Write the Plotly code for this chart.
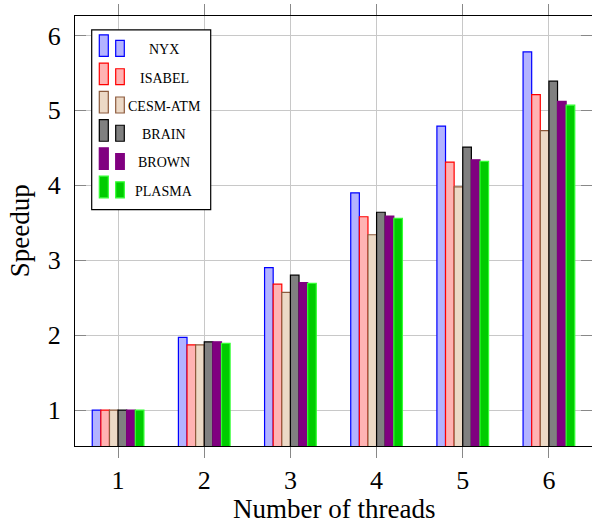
import plotly.graph_objects as go

threads = [1, 2, 3, 4, 5, 6]
series_names = ["NYX", "ISABEL", "CESM-ATM", "BRAIN", "BROWN", "PLASMA"]
nyx = [1.0, 1.97, 2.90, 3.90, 4.79, 5.78]
isabel = [1.0, 1.87, 2.68, 3.58, 4.31, 5.21]
cesm_atm = [1.0, 1.87, 2.57, 3.34, 3.98, 4.73]
brain = [1.0, 1.91, 2.80, 3.64, 4.51, 5.39]
brown = [1.0, 1.91, 2.70, 3.59, 4.34, 5.12]
plasma = [1.0, 1.89, 2.69, 3.56, 4.32, 5.07]
y_ticks = [1, 2, 3, 4, 5, 6]

series_values = [nyx, isabel, cesm_atm, brain, brown, plasma]
fills = ["#b3b3ff", "#ffb3b3", "#ecd9c6", "#808080", "#800080", "#00cc00"]
lines = ["#0000ff", "#ff0000", "#8c5a3c", "#000000", "#800080", "#33ff33"]

FONT = "Liberation Serif"
W, H = 592, 523
ML, MR, MT, MB = 75, 0, 15.5, 77
PW, PH = W - ML - MR, H - MT - MB

fig = go.Figure()
for name, vals, fc, lc in zip(series_names, series_values, fills, lines):
    fig.add_trace(go.Bar(x=threads, y=vals, name=name,
                         marker=dict(color=fc, line=dict(color=lc, width=1.2)),
                         showlegend=False))

def px(x):
    return (x - ML) / PW

def py(y):
    return (MT + PH - y) / PH

shapes = []
annotations = []
# legend box
shapes.append(dict(type="rect", xref="paper", yref="paper",
                   x0=px(91.7), x1=px(210.7), y0=py(209.3), y1=py(29.3),
                   line=dict(color="black", width=1.2), fillcolor="white", layer="above"))
pitch = 28.3
for i, (name, fc, lc) in enumerate(zip(series_names, fills, lines)):
    top = 34.3 + i * pitch
    bot = top + 21.7
    shapes.append(dict(type="rect", xref="paper", yref="paper",
                       x0=px(99.3), x1=px(108.3), y0=py(bot), y1=py(top),
                       line=dict(color=lc, width=1.2), fillcolor=fc, layer="above"))
    shapes.append(dict(type="rect", xref="paper", yref="paper",
                       x0=px(115.7), x1=px(124.3), y0=py(bot), y1=py(top + 5.7),
                       line=dict(color=lc, width=1.2), fillcolor=fc, layer="above"))
    annotations.append(dict(xref="paper", yref="paper", x=px(164), y=py(top + 15),
                            text=name, showarrow=False, xanchor="center", yanchor="middle",
                            font=dict(family=FONT, size=14, color="black")))

# axis titles
annotations.append(dict(xref="paper", yref="paper", x=px(334), y=py(509),
                        text="Number of threads", showarrow=False,
                        xanchor="center", yanchor="middle",
                        font=dict(family=FONT, size=27, color="black")))
annotations.append(dict(xref="paper", yref="paper", x=px(20), y=py(231),
                        text="Speedup", showarrow=False, textangle=-90,
                        xanchor="center", yanchor="middle",
                        font=dict(family=FONT, size=27, color="black")))

fig.update_layout(
    width=W, height=H,
    margin=dict(l=ML, r=MR, t=MT, b=MB),
    paper_bgcolor="white", plot_bgcolor="white",
    barmode="group", bargap=0.4, bargroupgap=0,
    font=dict(family=FONT, size=26, color="black"),
    shapes=shapes, annotations=annotations,
    xaxis=dict(range=[0.5, 6.5], tickvals=threads, ticktext=[str(t) for t in threads],
               showgrid=True, gridcolor="#c8c8c8", gridwidth=1,
               ticks="outside", ticklen=11, tickcolor="#888888", tickwidth=1,
               showline=True, linecolor="black", linewidth=1.2, mirror="allticks",
               zeroline=False, automargin=False),
    yaxis=dict(range=[0.52, 6.26], tickvals=y_ticks, ticktext=[str(t) for t in y_ticks],
               showgrid=True, gridcolor="#c8c8c8", gridwidth=1,
               ticks="inside", ticklen=11, tickcolor="#888888", tickwidth=1,
               showline=True, linecolor="black", linewidth=1.2, mirror="allticks",
               zeroline=False, ticklabelstandoff=8, automargin=False),
)

fig.write_html("out.html", config={"displayModeBar": False},
               post_script="document.body.style.margin='0';document.body.style.padding='0';")
